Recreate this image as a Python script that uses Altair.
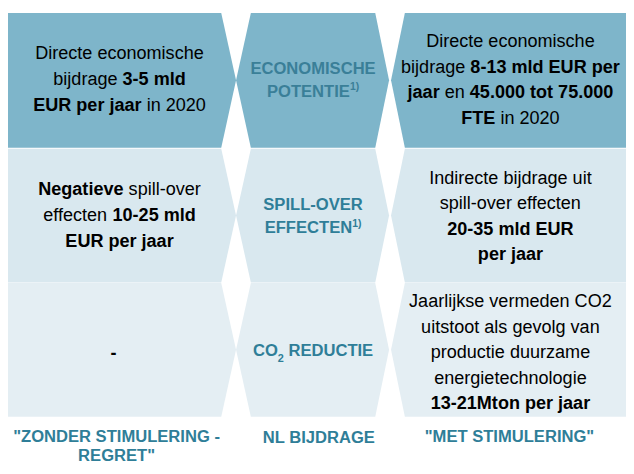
import altair as alt
import pandas as pd

# ---------------- content ----------------
# styles: "r" regular, "b" bold, "sup" superscript, "sub" subscript
left_texts = [
    [[("Directe economische", "r")],
     [("bijdrage ", "r"), ("3-5 mld", "b")],
     [("EUR per jaar", "b"), (" in 2020", "r")]],
    [[("Negatieve", "b"), (" spill-over", "r")],
     [("effecten ", "r"), ("10-25 mld", "b")],
     [("EUR per jaar", "b")]],
    [[("-", "b")]],
]
right_texts = [
    [[("Directe economische", "r")],
     [("bijdrage ", "r"), ("8-13 mld EUR per", "b")],
     [("jaar", "b"), (" en ", "r"), ("45.000 tot 75.000", "b")],
     [("FTE", "b"), (" in 2020", "r")]],
    [[("Indirecte bijdrage uit", "r")],
     [("spill-over effecten", "r")],
     [("20-35 mld EUR", "b")],
     [("per jaar", "b")]],
    [[("Jaarlijkse vermeden CO2", "r")],
     [("uitstoot als gevolg van", "r")],
     [("productie duurzame", "r")],
     [("energietechnologie", "r")],
     [("13-21Mton per jaar", "b")]],
]
mid_texts = [
    [[("ECONOMISCHE", "b")], [("POTENTIE", "b"), ("1)", "sup")]],
    [[("SPILL-OVER", "b")], [("EFFECTEN", "b"), ("1)", "sup")]],
    [[("CO", "b"), ("2", "sub"), (" REDUCTIE", "b")]],
]
bottom_texts = [
    [[('"ZONDER STIMULERING -', "b")], [('REGRET"', "b")]],
    [[("NL BIJDRAGE", "b")]],
    [[('"MET STIMULERING"', "b")]],
]

# ---------------- layout ----------------
row_top = [10, 147.5, 283.5]
row_bot = [146.5, 283, 419]
row_fill = ["#7EB5CA", "#D9E8EF", "#E4EEF3"]
# (left, right) edges at top, middle, bottom of a row for each column
col_edges = [
    [(8, 224), (8, 239), (8, 224)],
    [(254, 380), (239, 394), (254, 380)],
    [(410, 640), (396, 640), (410, 640)],
]
BODY = 18.3
MID = 16.8
SUP = 10.5
SUB = 11
TEAL = "#2F7E98"
FONT = "Liberation Sans, Arial, sans-serif"

REG = {' ': 278, '!': 278, '"': 355, '(': 333, ')': 333, '-': 333, '.': 278, ',': 278,
       'A': 667, 'B': 667, 'C': 722, 'D': 722, 'E': 667, 'F': 611, 'G': 778, 'H': 722,
       'I': 278, 'J': 500, 'K': 667, 'L': 556, 'M': 833, 'N': 722, 'O': 778, 'P': 667,
       'Q': 778, 'R': 722, 'S': 667, 'T': 611, 'U': 722, 'V': 667, 'W': 944, 'X': 667,
       'Y': 667, 'Z': 611, 'a': 556, 'b': 556, 'c': 500, 'd': 556, 'e': 556, 'f': 278,
       'g': 556, 'h': 556, 'i': 222, 'j': 222, 'k': 500, 'l': 222, 'm': 833, 'n': 556,
       'o': 556, 'p': 556, 'q': 556, 'r': 333, 's': 500, 't': 278, 'u': 556, 'v': 500,
       'w': 722, 'x': 500, 'y': 500, 'z': 500}
BOLD = {' ': 278, '!': 333, '"': 474, '(': 333, ')': 333, '-': 333, '.': 278, ',': 278,
        'A': 722, 'B': 722, 'C': 722, 'D': 722, 'E': 667, 'F': 611, 'G': 778, 'H': 722,
        'I': 278, 'J': 556, 'K': 722, 'L': 611, 'M': 833, 'N': 722, 'O': 778, 'P': 667,
        'Q': 778, 'R': 722, 'S': 667, 'T': 611, 'U': 722, 'V': 667, 'W': 944, 'X': 667,
        'Y': 667, 'Z': 611, 'a': 556, 'b': 611, 'c': 556, 'd': 611, 'e': 556, 'f': 333,
        'g': 611, 'h': 611, 'i': 278, 'j': 278, 'k': 556, 'l': 278, 'm': 889, 'n': 611,
        'o': 611, 'p': 611, 'q': 611, 'r': 389, 's': 556, 't': 333, 'u': 611, 'v': 556,
        'w': 778, 'x': 556, 'y': 556, 'z': 500}
for d in "0123456789":
    REG[d] = 556
    BOLD[d] = 556


def seg_props(style, base):
    if style == "r":
        return "normal", base, 0
    if style == "b":
        return "bold", base, 0
    if style == "sup":
        return "bold", SUP, -4.5
    return "bold", SUB, 8


def width(txt, weight, size):
    table = BOLD if weight == "bold" else REG
    return sum(table.get(c, 556) for c in txt) * size / 1000.0


records = []


def place(lines, cx, cy, spacing, base, color):
    n = len(lines)
    for i, line in enumerate(lines):
        y = cy + (i - (n - 1) / 2.0) * spacing
        total = 0
        for txt, st in line:
            w, s, _ = seg_props(st, base)
            total += width(txt, w, s)
        cur = cx - total / 2.0
        for txt, st in line:
            w, s, dy = seg_props(st, base)
            lead = len(txt) - len(txt.lstrip())
            cur += width(txt[:lead], w, s)
            records.append({"x": cur, "y": y + dy, "text": txt.strip(), "weight": w,
                            "size": s, "color": color})
            cur += width(txt[lead:], w, s)


left_cy = [78.5, 216, 356]
right_cy = [78.5, 217, 355]
mid_cy = [78.5, 216.5, 353]
for r in range(3):
    place(left_texts[r], 121 if r < 2 else 115, left_cy[r], 26.3, BODY, "#000000")
    place(right_texts[r], 517, right_cy[r], 25.8, BODY, "#000000")
    place(mid_texts[r], 317, mid_cy[r], 23, MID, TEAL if r else "#3A7F98")
place(bottom_texts[0], 118, 449, 19.5, MID, TEAL)
place(bottom_texts[1], 323, 441, 22.5, MID, TEAL)
place(bottom_texts[2], 516, 440, 22.5, MID, TEAL)
text_df = pd.DataFrame(records)

shape_rows = []
for r in range(3):
    ys = [row_top[r], (row_top[r] + row_bot[r]) / 2.0, row_bot[r]]
    for c in range(3):
        for k in range(3):
            shape_rows.append({"sid": f"r{r}c{c}", "yy": ys[k], "xl": col_edges[c][k][0],
                               "xr": col_edges[c][k][1], "fillc": row_fill[r]})
shape_df = pd.DataFrame(shape_rows)

W, H = 626, 458
xs = alt.Scale(domain=[8, 8 + W], range=[0, W], nice=False, zero=False)
ys_ = alt.Scale(domain=[8, 8 + H], range=[0, H], nice=False, zero=False)

areas = alt.Chart(shape_df).mark_area(orient="horizontal", clip=True).encode(
    y=alt.Y("yy:Q", scale=ys_, axis=None),
    x=alt.X("xl:Q", scale=xs, axis=None),
    x2=alt.X2("xr:Q"),
    detail=alt.Detail("sid:N"),
    fill=alt.Fill("fillc:N", scale=None),
)


def text_layer(weight):
    return alt.Chart(text_df).transform_filter(
        alt.datum.weight == weight
    ).mark_text(align="left", baseline="middle", font=FONT,
                fontWeight=weight, clip=True).encode(
        x=alt.X("x:Q", scale=xs, axis=None),
        y=alt.Y("y:Q", scale=ys_, axis=None),
        text="text:N",
        size=alt.Size("size:Q", scale=None),
        color=alt.Color("color:N", scale=None),
    )


chart = alt.layer(areas, text_layer("normal"), text_layer("bold")).properties(
    width=W, height=H, padding=0,
    autosize=alt.AutoSizeParams(type="none"),
).configure_view(stroke=None)

chart.save("out.html", embed_options={"renderer": "svg", "actions": False})
